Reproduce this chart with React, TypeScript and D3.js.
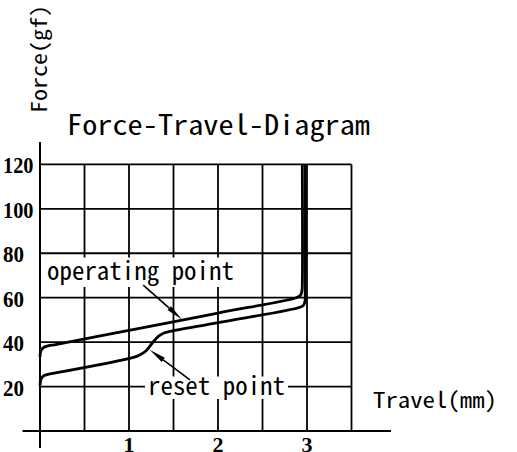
import React from 'react';
import * as d3 from 'd3';

// travel (mm), force (gf)
const operatingTravel = [0, 0.01, 0.04, 0.1, 0.16, 1.0, 2.0, 2.88, 2.925, 2.942, 2.947, 2.947];
const operatingForce = [33.5, 36.2, 37.6, 38.4, 38.8, 45.3, 53.1, 60.0, 61.0, 62.8, 66, 120];

const resetTravel = [0, 0.01, 0.04, 0.1, 0.16, 1.05, 1.12, 1.19, 1.26, 1.33, 1.4, 1.46, 2.0, 2.92, 2.962, 2.977, 2.98, 2.98];
const resetForce = [20.5, 23.2, 24.8, 25.6, 26.0, 33.1, 34.2, 36.0, 39.5, 42.6, 44.2, 44.8, 48.8, 55.7, 56.7, 58.3, 62, 120];

const xTicks = [1, 2, 3];
const yTicks = [20, 40, 60, 80, 100, 120];
const xGrid = [0.5, 1, 1.5, 2, 2.5, 3, 3.5];

const operatingArrow = { from: [1.16, 65.7], to: [1.595, 50.2] };
const resetArrow = { from: [1.685, 23], to: [1.232, 36.6] };

const mono = '"Noto Sans Mono CJK JP", "DejaVu Sans Mono", monospace';
const serif = '"Liberation Serif", "Times New Roman", serif';

function Arrow({ x1, y1, x2, y2 }: { x1: number; y1: number; x2: number; y2: number }) {
  const ang = Math.atan2(y2 - y1, x2 - x1);
  const len = 17;
  const hw = 2.6;
  const bx = x2 - len * Math.cos(ang);
  const by = y2 - len * Math.sin(ang);
  const px = -Math.sin(ang) * hw;
  const py = Math.cos(ang) * hw;
  return (
    <g>
      <line x1={x1} y1={y1} x2={bx} y2={by} stroke="#000" strokeWidth={1.6} />
      <polygon points={`${x2},${y2} ${bx + px},${by + py} ${bx - px},${by - py}`} fill="#000" />
    </g>
  );
}

export default function App() {
  const width = 517;
  const height = 452;

  const x = d3.scaleLinear().domain([0, 3.5]).range([40, 351.5]);
  const y = d3.scaleLinear().domain([0, 120]).range([431, 164.4]);

  const line = d3
    .line<[number, number]>()
    .x((d) => x(d[0]))
    .y((d) => y(d[1]))
    .curve(d3.curveCatmullRom.alpha(0.5));

  const opPts = operatingTravel.map((t, i) => [t, operatingForce[i]] as [number, number]);
  const rsPts = resetTravel.map((t, i) => [t, resetForce[i]] as [number, number]);

  return (
    <svg width={width} height={height} style={{ position: 'absolute', left: 0, top: 0, background: '#fff' }}>
      <rect width={width} height={height} fill="#fff" />

      {/* grid */}
      {yTicks.map((v) => (
        <line key={'h' + v} x1={x(0)} x2={x(3.5)} y1={y(v)} y2={y(v)} stroke="#000" strokeWidth={1.8} />
      ))}
      {xGrid.map((v) => (
        <line key={'v' + v} x1={x(v)} x2={x(v)} y1={y(120)} y2={y(0)} stroke="#000" strokeWidth={1.8} />
      ))}

      {/* axes */}
      <line x1={x(0)} x2={x(0)} y1={142} y2={448} stroke="#000" strokeWidth={2} />
      <line x1={22.5} x2={391} y1={y(0)} y2={y(0)} stroke="#000" strokeWidth={2} />

      {/* label backgrounds */}
      <rect x={41.5} y={257.5} width={199} height={29.5} fill="#fff" />
      <rect x={145} y={376.5} width={143} height={22.5} fill="#fff" />

      {/* curves */}
      <path d={line(opPts) || ''} fill="none" stroke="#000" strokeWidth={2.8} strokeLinejoin="round" />
      <path d={line(rsPts) || ''} fill="none" stroke="#000" strokeWidth={2.8} strokeLinejoin="round" />

      {/* annotations */}
      <text x={47} y={279.5} fontFamily={mono} fontSize={25} textLength={187} lengthAdjust="spacingAndGlyphs">
        operating point
      </text>
      <text x={148} y={395} fontFamily={mono} fontSize={25} textLength={137} lengthAdjust="spacingAndGlyphs">
        reset point
      </text>
      <Arrow
        x1={x(operatingArrow.from[0])}
        y1={y(operatingArrow.from[1])}
        x2={x(operatingArrow.to[0])}
        y2={y(operatingArrow.to[1])}
      />
      <Arrow
        x1={x(resetArrow.from[0])}
        y1={y(resetArrow.from[1])}
        x2={x(resetArrow.to[0])}
        y2={y(resetArrow.to[1])}
      />

      {/* tick labels */}
      {yTicks.map((v) => (
        <text
          key={'yl' + v}
          x={3}
          y={y(v) + 9}
          fontFamily={serif}
          fontWeight="bold"
          fontSize={23}
          textLength={String(v).length === 3 ? 30.5 : 21}
          lengthAdjust="spacingAndGlyphs"
        >
          {v}
        </text>
      ))}
      {xTicks.map((v) => (
        <text
          key={'xl' + v}
          x={x(v)}
          y={451.5}
          textAnchor="middle"
          fontFamily={serif}
          fontWeight="bold"
          fontSize={22}
        >
          {v}
        </text>
      ))}

      {/* titles */}
      <text x={67} y={135} fontFamily={mono} fontSize={28} textLength={303} lengthAdjust="spacingAndGlyphs">
        Force-Travel-Diagram
      </text>
      <text x={373} y={407.5} fontFamily={mono} fontSize={22} textLength={124} lengthAdjust="spacingAndGlyphs">
        Travel(mm)
      </text>
      <text
        transform="translate(46.5,113) rotate(-90)"
        fontFamily={mono}
        fontSize={21}
        textLength={108}
        lengthAdjust="spacingAndGlyphs"
      >
        Force(gf)
      </text>
    </svg>
  );
}
